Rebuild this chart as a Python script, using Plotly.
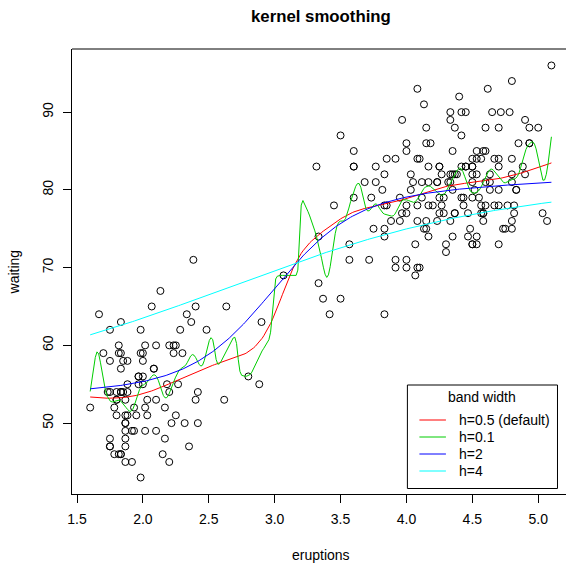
import numpy as np
import plotly.graph_objects as go

eruptions = [3.600,1.800,3.333,2.283,4.533,2.883,4.700,3.600,1.950,4.350,1.833,3.917,4.200,1.750,4.700,2.167,1.750,4.800,1.600,4.250,
1.800,1.750,3.450,3.067,4.533,3.600,1.967,4.083,3.850,4.433,4.300,4.467,3.367,4.033,3.833,2.017,1.867,4.833,1.833,4.783,
4.350,1.883,4.567,1.750,4.533,3.317,3.833,2.100,4.633,2.000,4.800,4.716,1.833,4.833,1.733,4.883,3.717,1.667,4.567,4.317,
2.233,4.500,1.750,4.800,1.817,4.400,4.167,4.700,2.067,4.700,4.033,1.967,4.500,4.000,1.983,5.067,2.017,4.567,3.883,3.600,
4.133,4.333,4.100,2.633,4.067,4.933,3.950,4.517,2.167,4.000,2.200,4.333,1.867,4.817,1.833,4.300,4.667,3.750,1.867,4.900,
2.483,4.367,2.100,4.500,4.050,1.867,4.700,1.783,4.850,3.683,4.733,2.300,4.900,4.417,1.700,4.633,2.317,4.600,1.817,4.417,
2.617,4.067,4.250,1.967,4.600,3.767,1.917,4.500,2.267,4.650,1.867,4.167,2.800,4.333,1.833,4.383,1.883,4.933,2.033,3.733,
4.233,2.233,4.533,4.817,4.333,1.983,4.633,2.017,5.100,1.800,5.033,4.000,2.400,4.600,3.567,4.000,4.500,4.083,1.800,3.967,
2.200,4.150,2.000,3.833,3.500,4.583,2.367,5.000,1.933,4.617,1.917,2.083,4.583,3.333,4.167,4.333,4.500,2.417,4.000,4.167,
1.883,4.583,4.250,3.767,2.033,4.433,4.083,1.833,4.417,2.183,4.800,1.833,4.800,4.100,3.966,4.233,3.500,4.366,2.250,4.667,
2.100,4.350,4.133,1.867,4.600,1.783,4.367,3.850,1.933,4.500,2.383,4.700,1.867,3.833,3.417,4.233,2.400,4.800,2.000,4.150,
1.867,4.267,1.750,4.483,4.000,4.117,4.083,4.267,3.917,4.550,4.083,2.417,4.183,2.217,4.450,1.883,1.850,4.283,3.950,2.333,
4.150,2.350,4.933,2.900,4.583,3.833,2.083,4.367,2.133,4.350,2.200,4.450,3.567,4.500,4.150,3.817,3.917,4.450,2.000,4.283,
4.767,4.533,1.850,4.250,1.983,2.250,4.750,4.117,2.150,4.417,1.817,4.467]
waiting = [79,54,74,62,85,55,88,85,51,85,54,84,78,47,83,52,62,84,52,79,
51,47,78,69,74,83,55,76,78,79,73,77,66,80,74,52,48,80,59,90,
80,58,84,58,73,83,64,53,82,59,75,90,54,80,54,83,71,64,77,81,
59,84,48,82,60,92,78,78,65,73,82,56,79,71,62,76,60,78,76,83,
75,82,70,65,73,88,76,80,48,86,60,90,50,78,63,72,84,75,51,82,
62,88,49,83,81,47,84,52,86,81,75,59,89,79,59,81,50,85,59,87,
53,69,77,56,88,81,45,82,55,90,45,83,56,89,46,82,51,86,53,79,
81,60,82,77,76,59,80,49,96,53,77,77,65,81,71,70,81,93,53,89,
45,86,58,78,66,76,63,88,52,93,49,57,77,68,81,81,73,50,85,74,
55,77,83,83,51,78,84,46,83,55,81,57,76,84,77,81,87,77,51,78,
60,82,91,53,78,46,77,84,49,83,71,80,49,75,64,76,53,94,55,76,
50,82,54,75,78,79,78,78,70,79,70,54,86,50,90,54,54,77,79,64,
75,47,86,63,85,82,57,82,67,74,54,83,73,73,88,80,71,83,56,79,
78,84,58,83,43,60,75,81,46,90,46,74]

bandwidths = [0.5, 0.1, 2, 4]
colors = ["#FF0000", "#00CD00", "#0000FF", "#00FFFF"]
legend_labels = ["h=0.5 (default)", "h=0.1", "h=2", "h=4"]
legend_title = "band width"
x_ticks = [1.5, 2.0, 2.5, 3.0, 3.5, 4.0, 4.5, 5.0]
y_ticks = [50, 60, 70, 80, 90]


def ksmooth(x, y, bandwidth, n_points):
    order = np.argsort(x, kind="stable")
    xs = np.asarray(x, float)[order]
    ys = np.asarray(y, float)[order]
    xp = np.linspace(xs.min(), xs.max(), n_points)
    bw = bandwidth * 0.3706506
    cutoff = 4 * bw
    yp = np.full(n_points, np.nan)
    for j, x0 in enumerate(xp):
        m = np.abs(xs - x0) <= cutoff
        if m.any():
            w = np.exp(-0.5 * ((xs[m] - x0) / bw) ** 2)
            yp[j] = np.sum(w * ys[m]) / np.sum(w)
    return xp, yp


fig = go.Figure()
fig.add_trace(go.Scatter(x=eruptions, y=waiting, mode="markers",
                         marker=dict(symbol="circle-open", size=7, color="black",
                                     line=dict(width=1, color="black")),
                         showlegend=False, hoverinfo="skip"))
npts = max(100, len(eruptions))
for h, c in zip(bandwidths, colors):
    xp, yp = ksmooth(eruptions, waiting, h, npts)
    fig.add_trace(go.Scatter(x=xp, y=yp, mode="lines", line=dict(color=c, width=1),
                             showlegend=False, hoverinfo="skip"))

W, H = 566, 563
L, T, B = 72.3, 49, 494
R_PX = 566
px_per_x = 131.7
x0 = 1.5 - (77.3 - L) / px_per_x
x1 = x0 + (R_PX - L) / px_per_x
y_lo, y_hi = 40.88, 98.12


def px(xpix):
    return (xpix - L) / (R_PX - L)


def py(ypix):
    return (B - ypix) / (B - T)


font = "Liberation Sans, Arial, Helvetica, sans-serif"
FS = 14
fig.update_layout(
    width=W, height=H,
    margin=dict(l=L, r=W - R_PX, t=T, b=H - B, pad=0),
    plot_bgcolor="white", paper_bgcolor="white",
    font=dict(family=font, size=FS, color="black"),
    xaxis=dict(range=[x0, x1], tickvals=x_ticks, ticktext=[f"{v:.1f}" for v in x_ticks],
               showgrid=False, zeroline=False, showline=True, linecolor="black", linewidth=1,
               ticks="outside", ticklen=8, tickcolor="black", tickfont=dict(size=FS),
               ticklabelstandoff=4),
    yaxis=dict(range=[y_lo, y_hi], tickvals=y_ticks, ticktext=[str(v) for v in y_ticks],
               showgrid=False, zeroline=False, showline=True, linecolor="black", linewidth=1,
               ticks="outside", ticklen=8, tickcolor="black", tickfont=dict(size=FS),
               tickangle=-90, ticklabelstandoff=4),
    showlegend=False,
)

shapes = [dict(type="line", xref="paper", yref="paper", x0=0, x1=1, y0=1, y1=1,
               line=dict(color="black", width=1))]
# legend box
shapes.append(dict(type="rect", xref="paper", yref="paper", x0=px(407.5), x1=px(557.5),
                   y0=py(488.5), y1=py(385), line=dict(color="black", width=1),
                   fillcolor="white", layer="above"))
annotations = []
row_y = [420, 437, 454, 471]
for ry, c, lab in zip(row_y, colors, legend_labels):
    shapes.append(dict(type="line", xref="paper", yref="paper", x0=px(419.5), x1=px(446),
                       y0=py(ry), y1=py(ry), line=dict(color=c, width=1), layer="above"))
    annotations.append(dict(text=lab, xref="paper", yref="paper", x=px(457.5), y=py(ry),
                            xanchor="left", yanchor="middle", showarrow=False,
                            font=dict(size=FS, family=font)))
annotations.append(dict(text=legend_title, xref="paper", yref="paper", x=px(482.5), y=py(397),
                        xanchor="center", yanchor="middle", showarrow=False,
                        font=dict(size=FS, family=font)))
# title and axis labels
annotations.append(dict(text="<b>kernel smoothing</b>", xref="paper", yref="paper",
                        x=px(321), y=py(16), xanchor="center", yanchor="middle",
                        showarrow=False, font=dict(size=16.8, family=font)))
annotations.append(dict(text="eruptions", xref="paper", yref="paper",
                        x=px(321), y=py(555), xanchor="center", yanchor="middle",
                        showarrow=False, font=dict(size=FS, family=font)))
annotations.append(dict(text="waiting", xref="paper", yref="paper",
                        x=px(14.3), y=py(271.5), xanchor="center", yanchor="middle",
                        textangle=-90, showarrow=False, font=dict(size=FS, family=font)))
fig.update_layout(shapes=shapes, annotations=annotations)

fig.write_html("out.html")
